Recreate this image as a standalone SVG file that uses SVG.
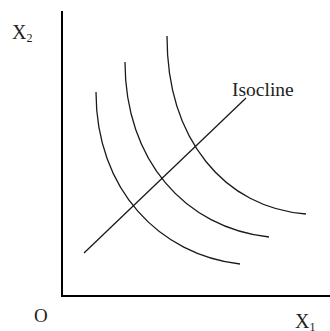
<svg xmlns="http://www.w3.org/2000/svg" width="330" height="331" viewBox="0 0 330 331">
<style>
.ax{stroke:#000;stroke-width:2;fill:none}
.c{stroke:#1a1a1a;stroke-width:1.3;fill:none}
text{font-family:"Liberation Serif",serif;fill:#222}
</style>
<rect width="330" height="331" fill="#fff"/>
<g id="axes">
<line class="ax" x1="62" y1="11" x2="62" y2="297"/>
<line class="ax" x1="61" y1="296" x2="330" y2="296"/>
</g>
<g id="curves">
<path id="ic1" class="c" d="M96,92 C96,190 160,255 240,264"/>
<path id="ic2" class="c" d="M125,62 C125,160 185,228 269,237"/>
<path id="ic3" class="c" d="M167,36 C167,140 225,208 306,214"/>
<line id="isocline" class="c" x1="84" y1="253" x2="246" y2="98"/>
</g>
<g id="labels">
<text x="12" y="39" font-size="20">X<tspan font-size="12" dy="2.5">2</tspan></text>
<text x="34" y="322" font-size="19">O</text>
<text x="295" y="328" font-size="20">X<tspan font-size="12" dy="3">1</tspan></text>
<text x="232" y="96" font-size="19.5">Isocline</text>
</g>
</svg>
